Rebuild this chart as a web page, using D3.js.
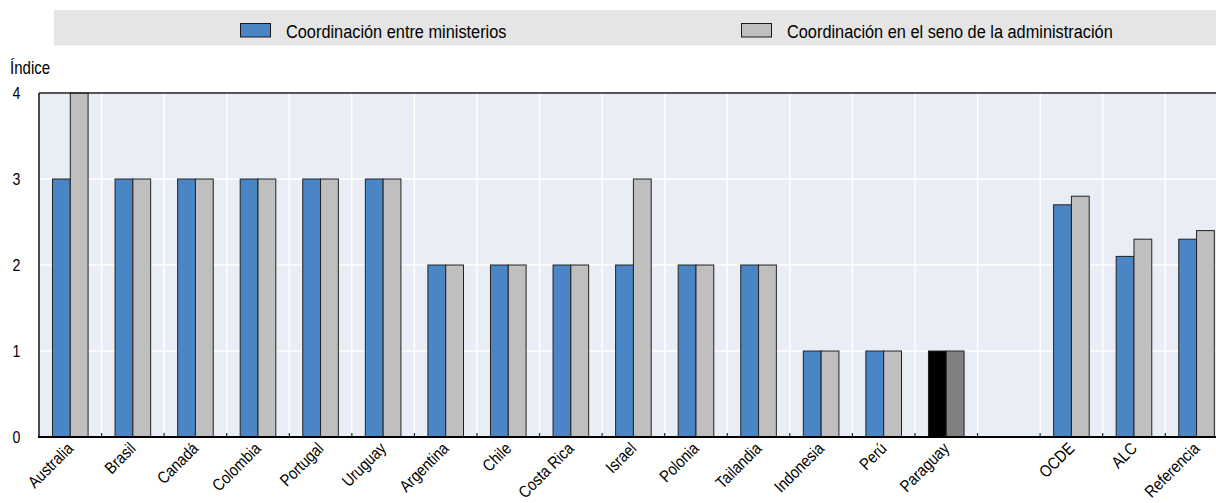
<!DOCTYPE html>
<html><head><meta charset="utf-8">
<script src="https://cdn.jsdelivr.net/npm/d3@7"></script>
<style>
body{margin:0;background:#fff;}
svg{display:block;}
text{font-family:"Liberation Sans Narrow","Arial Narrow","Liberation Sans",Arial,sans-serif;fill:#000;}
</style></head><body>
<svg id="c" width="1216" height="503"></svg>
<script>
const categories = ["Australia","Brasil","Canadá","Colombia","Portugal","Uruguay","Argentina","Chile","Costa Rica","Israel","Polonia","Tailandia","Indonesia","Perú","Paraguay","","OCDE","ALC","Referencia"];
const entreMinisterios = [3,3,3,3,3,3,2,2,2,2,2,2,1,1,1,null,2.7,2.1,2.3];
const senoAdministracion = [4,3,3,3,3,3,2,2,2,3,2,2,1,1,1,null,2.8,2.3,2.4];
const seriesNames = ["Coordinación entre ministerios","Coordinación en el seno de la administración"];
const yTicks = [0,1,2,3,4];
const highlight = "Paraguay";

const svg = d3.select("#c");
const pLeft = 39, pTop = 93, pBottom = 437, bandW = 62.57;
const SX = 0.86; // condensed text
const x = d3.scaleBand().domain(d3.range(categories.length)).range([pLeft, pLeft + bandW*categories.length]).padding(0);
const y = d3.scaleLinear().domain([0,4]).range([pBottom, pTop]);
const barW = 17.8;
const sub = d3.scaleBand().domain([0,1]).range([x.bandwidth()/2 - barW, x.bandwidth()/2 + barW]).padding(0);

// legend
svg.append("rect").attr("x",54).attr("y",10).attr("width",1216-54).attr("height",35.5).attr("fill","#e5e5e5");
const legendItems = [{x:240, fill:"#4a86c6"},{x:741, fill:"#bfbfbf"}];
legendItems.forEach((d,i)=>{
  svg.append("rect").attr("x",d.x+0.5).attr("y",23.5).attr("width",30).attr("height",13.5).attr("fill",d.fill).attr("stroke","#1a1a1a").attr("stroke-width",1);
  svg.append("text").attr("transform",`translate(${d.x+46},37.8) scale(${SX},1)`).attr("font-size",19).text(seriesNames[i]);
});

// plot background
const plotRight = x.range()[1];
svg.append("rect").attr("x",pLeft).attr("y",pTop).attr("width",plotRight-pLeft).attr("height",pBottom-pTop).attr("fill","#e9edf5");

// horizontal grid
svg.append("g").selectAll("line").data(yTicks.filter(t=>t>0 && t<4)).join("line")
  .attr("x1",pLeft).attr("x2",plotRight).attr("y1",d=>y(d)).attr("y2",d=>y(d))
  .attr("stroke","#fff").attr("stroke-width",1.5);
// vertical grid at band boundaries
const bounds = d3.range(1,categories.length).map(i=>x(i));
svg.append("g").selectAll("line").data(bounds).join("line")
  .attr("x1",d=>d).attr("x2",d=>d).attr("y1",pTop).attr("y2",pBottom)
  .attr("stroke","#fff").attr("stroke-width",1.5);

// bars
const rows = categories.map((c,i)=>({c,i,v:[entreMinisterios[i],senoAdministracion[i]]}));
const colors = ["#4a86c6","#bfbfbf"], hiColors = ["#000000","#808080"];
const g = svg.append("g");
rows.forEach(r=>{
  r.v.forEach((v,k)=>{
    if(v==null) return;
    g.append("rect")
      .attr("x",x(r.i)+sub(k)).attr("width",sub.bandwidth())
      .attr("y",y(v)).attr("height",y(0)-y(v))
      .attr("fill", r.c===highlight ? hiColors[k] : colors[k])
      .attr("stroke","#222").attr("stroke-width",1);
  });
});

// small ticks at bottom
svg.append("g").selectAll("line").data(bounds).join("line")
  .attr("x1",d=>d).attr("x2",d=>d).attr("y1",pBottom).attr("y2",pBottom-4)
  .attr("stroke","#222").attr("stroke-width",1.2);

// frame
svg.append("line").attr("x1",pLeft).attr("x2",plotRight).attr("y1",pTop).attr("y2",pTop).attr("stroke","#222").attr("stroke-width",1.5);
svg.append("line").attr("x1",pLeft).attr("x2",pLeft).attr("y1",pTop).attr("y2",pBottom).attr("stroke","#111").attr("stroke-width",1.5);
svg.append("line").attr("x1",pLeft-1).attr("x2",plotRight).attr("y1",pBottom).attr("y2",pBottom).attr("stroke","#000").attr("stroke-width",2);

// y tick labels
svg.append("g").selectAll("text").data(yTicks).join("text")
  .attr("transform",d=>`translate(12.5,${y(d)+5.5}) scale(${SX},1)`).attr("font-size",16.5).text(d=>d);
svg.append("text").attr("transform",`translate(10,74) scale(${SX},1)`).attr("font-size",17.5).text("Índice");

// x labels
svg.append("g").selectAll("text").data(rows.filter(r=>r.c)).join("text")
  .attr("transform",r=>`translate(${x(r.i)+x.bandwidth()/2+4},${pBottom+12.5}) rotate(-45) scale(${SX},1)`)
  .attr("text-anchor","end").attr("font-size",16.7).text(r=>r.c);
</script>
</body></html>
